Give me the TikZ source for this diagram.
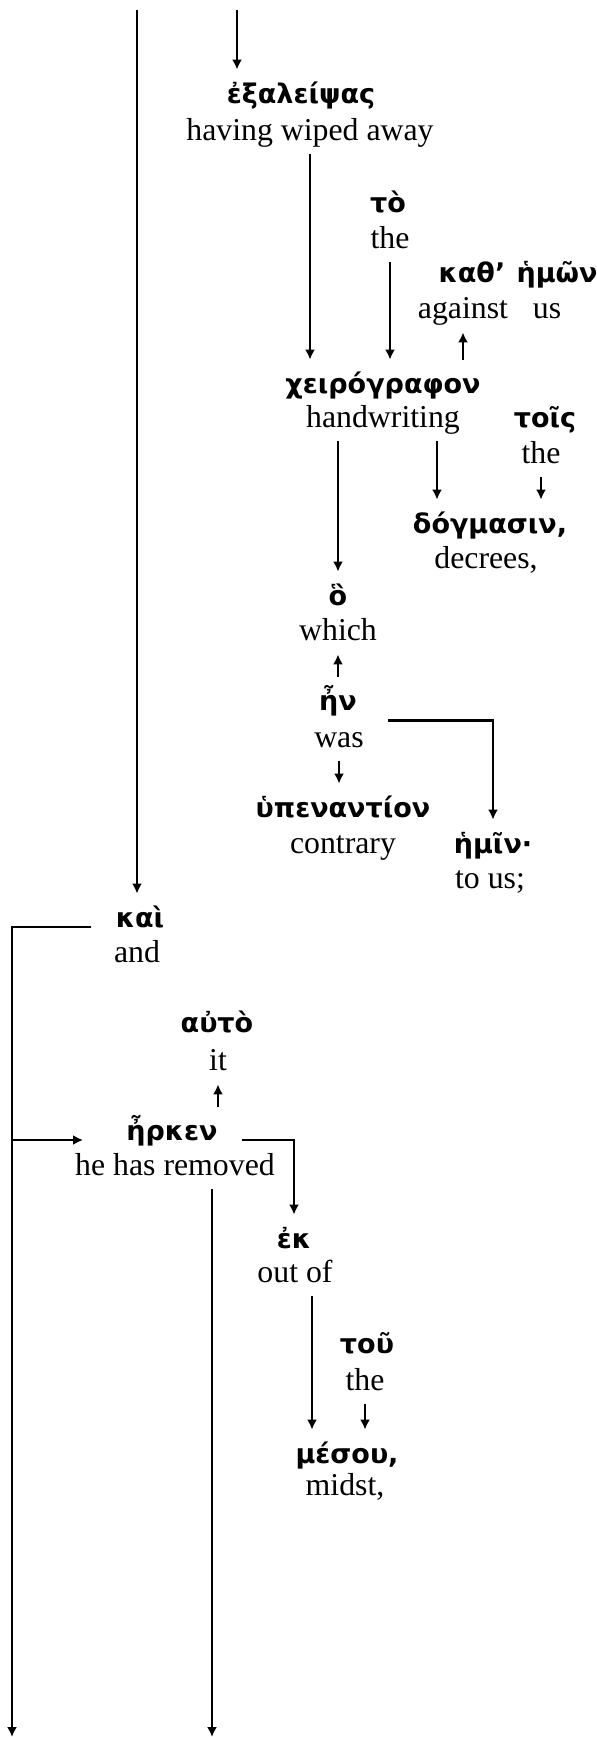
\documentclass[tikz,border=0pt]{standalone}
\usepackage{fontspec}
\setmainfont{Liberation Serif}
\newfontfamily\greekfont{DejaVu Sans}
\usetikzlibrary{arrows.meta}

\begin{document}
\begin{tikzpicture}[x=0.5pt,y=-0.5pt,
  gk/.style={anchor=base,inner ysep=0pt,inner xsep=12pt,text height=16.5pt,text depth=4pt,font=\greekfont\bfseries\fontsize{13.5}{15}\selectfont},
  en/.style={anchor=base,inner ysep=0pt,inner xsep=12pt,text height=13pt,text depth=7pt,font=\fontsize{15.9}{18}\selectfont},
  conn/.style={->,>={Latex[length=5pt,width=5pt]},line width=1.2pt}]

        \useasboundingbox (0,0) rectangle (597,1737);

        \coordinate (top1) at (137,10);
        \coordinate (top2) at (237,10);
        \coordinate (bot1) at (12,1737);
        \coordinate (bot2) at (212,1737);

        \node[gk] (exaleipsas) at (301,103) {ἐξαλείψας};
        \node[en] (exaleipsasE) at (310,140) {having wiped away};
        \node[gk] (to) at (388,212) {τὸ};
        \node[en] (toE) at (390,248) {the};
        \node[gk] (kath) at (472,282) {καθ’};
        \node[en] (kathE) at (463,318) {against};
        \node[gk] (hemon) at (557,282) {ἡμῶν};
        \node[en] (hemonE) at (547,318) {us};
        \node[gk] (cheiro) at (383,393) {χειρόγραφον};
        \node[en] (cheiroE) at (383,427) {handwriting};
        \node[gk] (tois) at (545,427) {τοῖς};
        \node[en] (toisE) at (541,463) {the};
        \node[gk] (dogmasin) at (490,533) {δόγμασιν,};
        \node[en] (dogmasinE) at (486,568) {decrees,};
        \node[gk] (ho) at (338,605) {ὃ};
        \node[en] (hoE) at (338,640) {which};
        \node[gk] (hen) at (338,710) {ἦν};
        \node[en] (henE) at (339,747) {was};
        \node[gk] (hypen) at (343,817) {ὑπεναντίον};
        \node[en] (hypenE) at (343,853) {contrary};
        \node[gk] (hemin) at (493,853) {ἡμῖν·};
        \node[en] (heminE) at (490,888) {to us;};
        \node[gk] (kai) at (140,927) {καὶ};
        \node[en] (kaiE) at (137,962) {and};
        \node[gk] (auto) at (217,1032) {αὐτὸ};
        \node[en] (autoE) at (218,1070) {it};
        \node[gk] (erken) at (172,1140) {ἦρκεν};
        \node[en] (erkenE) at (175,1175) {he has removed};
        \node[gk] (ek) at (294,1248) {ἐκ};
        \node[en] (ekE) at (295,1282) {out of};
        \node[gk] (tou) at (367,1353) {τοῦ};
        \node[en] (touE) at (365,1390) {the};
        \node[gk] (mesou) at (347,1463) {μέσου,};
        \node[en] (mesouE) at (345,1495) {midst,};

        \draw[conn] (top1) -- (top1 |- kai.north);
        \draw[conn] (top2) -- (top2 |- exaleipsas.north);
        \draw[conn] (exaleipsasE.south) -- (exaleipsasE.south |- cheiro.north);
        \draw[conn] (toE.south) -- (toE.south |- cheiro.north);
        \draw[conn] (kathE.south |- cheiro.north) -- (kathE.south);
        \draw[conn] (cheiroE.south -| ho.north) -- (ho.north);
        \draw[conn] ([xshift=27pt]cheiroE.south) -- ([xshift=27pt]cheiroE.south |- dogmasin.north);
        \draw[conn] (toisE.south) -- (toisE.south |- dogmasin.north);
        \draw[conn] (hen.north) -- (hoE.south);
        \draw[conn] (henE.north east) -- (henE.north east -| hemin.north) -- (hemin.north);
        \draw[conn] (henE.south) -- (henE.south |- hypen.north);
        \draw[conn] (kai.base west) -- (kai.base west -| bot1) -- (bot1);
        \draw[conn,shorten >=9.5pt] (erken.base west -| bot1) -- (erken.base west);
        \draw[conn] (erken.north -| autoE.south) -- (autoE.south);
        \draw[conn] (erken.base east) -- (erken.base east -| ek.north) -- (ek.north);
        \draw[conn] (erkenE.south -| bot2) -- (bot2);
        \draw[conn] ([xshift=8.5pt]ekE.south) -- ([xshift=8.5pt]ekE.south |- mesou.north);
        \draw[conn] (touE.south) -- (touE.south |- mesou.north);
      \end{tikzpicture}
\end{document}
